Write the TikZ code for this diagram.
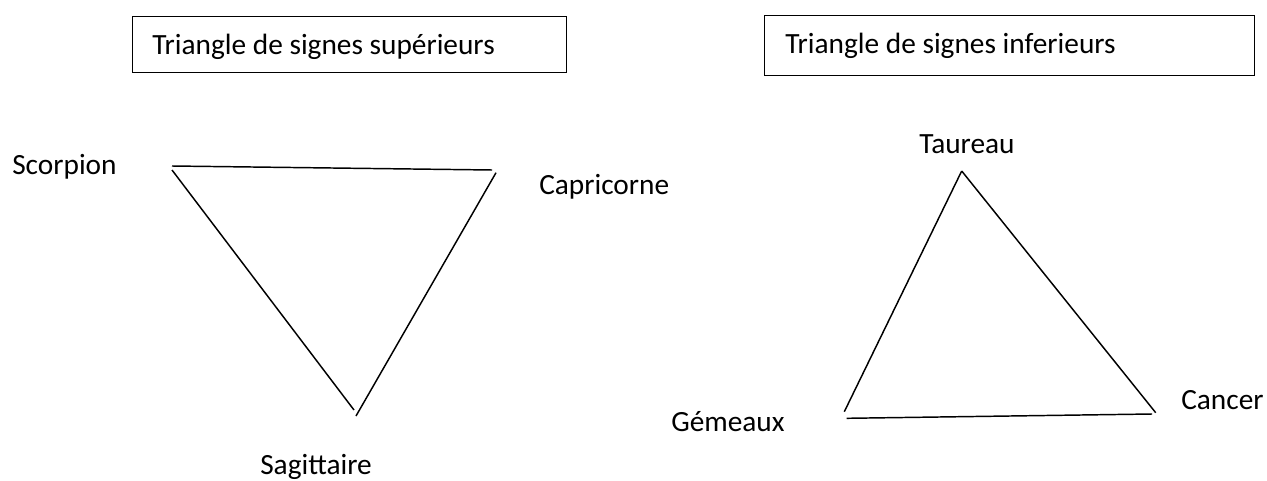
\documentclass[tikz,border=0pt]{standalone}
\usepackage{fontspec}
\setmainfont{Carlito}
\usetikzlibrary{calc}

\begin{document}
\begin{tikzpicture}[x=0.75pt,y=0.75pt,yscale=-1,xscale=1,
  lbl/.style={anchor=base west,inner sep=0pt,font=\fontsize{22}{26}\selectfont},
  side/.style={line width=1.1pt},
  frame/.style={line width=0.7pt}]
\useasboundingbox (0,0) rectangle (1267,481);

%Shape: Rectangle [id:boxsup] 
\draw [frame] (132,16) rectangle (566,72) ;
%Shape: Rectangle [id:boxinf] 
\draw [frame] (764,15) rectangle (1254,75) ;

% Text Node
\node [lbl] (titlesup) at (152,55) {Triangle de signes supérieurs};
% Text Node
\node [lbl] (titleinf) at (785,54) {Triangle de signes inferieurs};

%Vertices, upper triangle
\coordinate (scA) at (172,166);
\coordinate (scB) at (172,170);
\coordinate (caA) at (492,170);
\coordinate (caB) at (496,172.7);
\coordinate (saA) at (354,410);
\coordinate (saB) at (356,416);
%Vertices, lower triangle
\coordinate (ta) at (961.7,171);
\coordinate (geA) at (844.3,411.7);
\coordinate (geB) at (846.7,418.3);
\coordinate (cnA) at (1155.7,412.7);
\coordinate (cnB) at (1152,414);

%Straight Lines 
\draw [side] (scA) -- (caA) ;
\draw [side] (scB) -- (saA) ;
\draw [side] (caB) -- (saB) ;
%Straight Lines 
\draw [side] (ta) -- (geA) ;
\draw [side] (ta) -- (cnA) ;
\draw [side] (geB) -- (cnB) ;

% Text Node
\node [lbl] (scorpion) at (12,174.3) {Scorpion};
% Text Node
\node [lbl] (capricorne) at (539,194.5) {Capricorne};
% Text Node
\node [lbl] (sagittaire) at (260,474) {Sagittaire};
% Text Node
\node [lbl] (taureau) at (919,154) {Taureau};
% Text Node
\node [lbl] (gemeaux) at (671,431) {Gémeaux};
% Text Node
\node [lbl] (cancer) at (1181,409) {Cancer};

\end{tikzpicture}
\end{document}
